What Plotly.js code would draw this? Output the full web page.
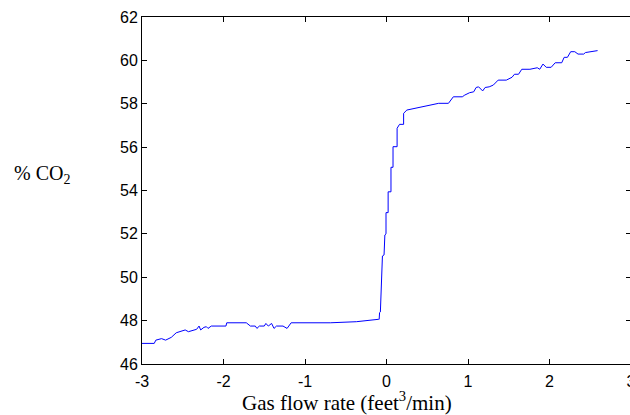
<!DOCTYPE html>
<html>
<head>
<meta charset="utf-8">
<script src="https://cdn.plot.ly/plotly-3.0.1.min.js"></script>
<style>
html,body{margin:0;padding:0;overflow:hidden;background:#fff;width:630px;height:415px;}
#chart{width:640px;height:415px;}
</style>
</head>
<body>
<div id="chart"></div>
<script>
// Gas flow rate (feet^3/min)
const flowRate = [-3.0, -2.85, -2.83, -2.76, -2.71, -2.64, -2.58, -2.53, -2.47, -2.43, -2.37, -2.33, -2.30, -2.28, -2.24, -2.21, -2.19, -2.15, -1.97, -1.96, -1.72, -1.67, -1.61, -1.59, -1.56, -1.50, -1.48, -1.45, -1.41, -1.38, -1.35, -1.27, -1.22, -1.17, -0.69, -0.37, -0.10, -0.09, -0.085, -0.075, -0.05, -0.03, -0.02, -0.006, -0.006, 0.02, 0.02, 0.055, 0.055, 0.08, 0.08, 0.13, 0.13, 0.16, 0.21, 0.21, 0.25, 0.64, 0.76, 0.78, 0.82, 0.93, 0.96, 1.02, 1.07, 1.10, 1.13, 1.18, 1.21, 1.26, 1.31, 1.37, 1.47, 1.54, 1.57, 1.62, 1.66, 1.76, 1.85, 1.88, 1.92, 1.96, 2.02, 2.07, 2.15, 2.18, 2.22, 2.26, 2.31, 2.35, 2.42, 2.44, 2.54, 2.59];
// % CO2
const co2 = [46.95, 46.95, 47.1, 47.17, 47.1, 47.23, 47.44, 47.49, 47.57, 47.49, 47.57, 47.6, 47.75, 47.57, 47.69, 47.72, 47.64, 47.75, 47.75, 47.9, 47.9, 47.75, 47.75, 47.64, 47.75, 47.75, 47.87, 47.75, 47.87, 47.64, 47.75, 47.75, 47.64, 47.9, 47.9, 47.95, 48.06, 48.06, 48.37, 48.4, 50.98, 51.03, 51.95, 52.0, 52.98, 52.98, 53.94, 53.94, 55.07, 55.07, 56.02, 56.02, 56.87, 57.05, 57.05, 57.56, 57.71, 58.02, 58.02, 58.14, 58.32, 58.32, 58.40, 58.51, 58.55, 58.75, 58.78, 58.59, 58.75, 58.78, 58.86, 59.09, 59.09, 59.22, 59.36, 59.36, 59.59, 59.59, 59.66, 59.59, 59.83, 59.68, 59.68, 59.89, 59.89, 60.14, 60.14, 60.40, 60.40, 60.29, 60.29, 60.36, 60.40, 60.45];

const xTicks = [-3, -2, -1, 0, 1, 2, 3];
const yTicks = [46, 48, 50, 52, 54, 56, 58, 60, 62];

const trace = {
  x: flowRate, y: co2, type: 'scatter', mode: 'lines',
  line: {color: '#0000ff', width: 1}, hoverinfo: 'skip'
};

function axisCommon() {
  return {
    showline: true, linecolor: '#000', linewidth: 1, mirror: 'ticks',
    ticks: 'inside', ticklen: 5, tickcolor: '#000', tickwidth: 1,
    showgrid: false, zeroline: false,
    tickfont: {family: 'Liberation Sans, Arial, sans-serif', size: 16, color: '#000'}
  };
}

const layout = {
  width: 640, height: 415,
  margin: {l: 142, r: 9, t: 17, b: 51},
  paper_bgcolor: '#fff', plot_bgcolor: '#fff',
  showlegend: false,
  xaxis: Object.assign(axisCommon(), {range: [-3, 3], tickvals: xTicks, ticktext: xTicks.map(String), ticklabelstandoff: 3}),
  yaxis: Object.assign(axisCommon(), {range: [46, 62], tickvals: yTicks, ticktext: yTicks.map(String)}),
  annotations: [
    {text: 'Gas flow rate (feet<sup>3</sup>/min)', xref: 'paper', yref: 'paper', x: 0.419, y: -0.108,
     xanchor: 'center', yanchor: 'middle', showarrow: false,
     font: {family: 'Liberation Serif, Times New Roman, serif', size: 21, color: '#000'}},
    {text: '% CO<sub>2</sub>', xref: 'paper', yref: 'paper', x: -0.205, y: 0.545,
     xanchor: 'center', yanchor: 'middle', showarrow: false,
     font: {family: 'Liberation Serif, Times New Roman, serif', size: 20, color: '#000'}}
  ]
};

Plotly.newPlot('chart', [trace], layout, {displayModeBar: false, staticPlot: true});
</script>
</body>
</html>
